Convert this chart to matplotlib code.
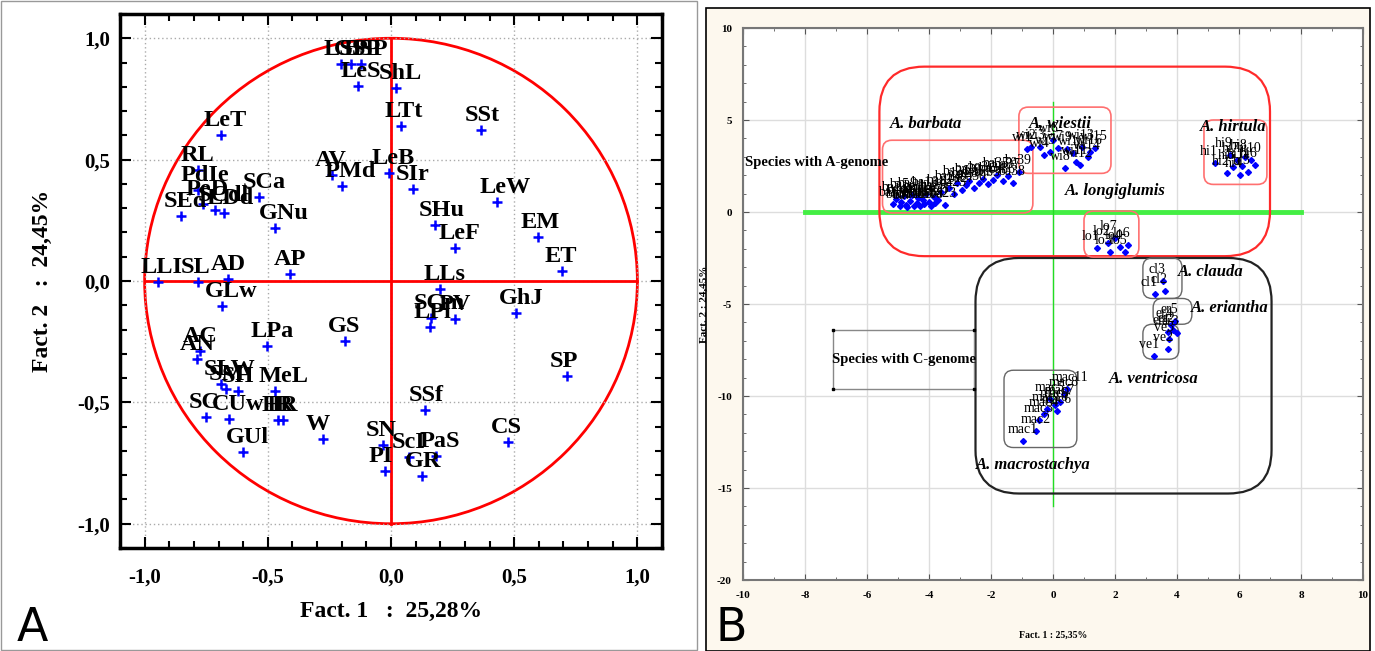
import numpy as np
import matplotlib.pyplot as plt
from matplotlib.patches import Circle, Rectangle, FancyBboxPatch
from matplotlib.ticker import MultipleLocator, FuncFormatter

plt.rcParams['font.family'] = ['Liberation Serif', 'DejaVu Serif']
plt.rcParams['axes.unicode_minus'] = False

# =========================
# Panel A data: variable loadings on factors 1 and 2
# =========================
var_names = ["LSP", "GSP", "BSP", "LeS", "ShL", "LTt", "SSt", "LeT", "RL", "PdIe",
             "PeD", "SEd", "SCdl", "LDd", "SCa", "GNu", "AV", "PMd", "LeB", "SIr",
             "LeW", "SHu", "EM", "LeF", "ET", "LLs", "AP", "LLI", "SL", "AD",
             "GLw", "SCm", "PV", "LPl", "GhJ", "AC", "AN", "LPa", "GS", "SP",
             "SLW", "SM", "SH", "MeL", "SC", "CUw", "HR", "IR", "GUl", "W",
             "SSf", "CS", "SN", "PI", "ScI", "PaS", "GR"]
var_x = [-0.204, -0.163, -0.122, -0.135, 0.020, 0.041, 0.367, -0.690, -0.784, -0.784,
         -0.763, -0.853, -0.714, -0.678, -0.535, -0.469, -0.241, -0.200, -0.008, 0.090,
         0.429, 0.180, 0.596, 0.261, 0.694, 0.200, -0.408, -0.947, -0.784, -0.661,
         -0.686, 0.163, 0.261, 0.159, 0.506, -0.776, -0.788, -0.502, -0.188, 0.714,
         -0.690, -0.669, -0.620, -0.469, -0.751, -0.657, -0.457, -0.437, -0.600, -0.278,
         0.139, 0.473, -0.033, -0.024, 0.073, 0.184, 0.127]
var_y = [0.893, 0.893, 0.893, 0.802, 0.794, 0.638, 0.621, 0.601, 0.457, 0.374,
         0.317, 0.267, 0.292, 0.280, 0.346, 0.218, 0.436, 0.391, 0.444, 0.379,
         0.325, 0.230, 0.181, 0.136, 0.041, -0.033, 0.029, -0.004, -0.004, 0.008,
         -0.103, -0.152, -0.156, -0.189, -0.132, -0.288, -0.321, -0.267, -0.247, -0.391,
         -0.424, -0.444, -0.453, -0.453, -0.560, -0.568, -0.572, -0.572, -0.704, -0.650,
         -0.531, -0.663, -0.675, -0.782, -0.724, -0.720, -0.802]

# =========================
# Panel B data: individuals on factors 1 and 2, by species
# =========================
barbata = [(-5.15, 0.45), (-5.05, 0.7), (-4.95, 0.3), (-4.9, 0.55), (-4.8, 0.85),
           (-4.75, 0.4), (-4.7, 0.25), (-4.6, 0.6), (-4.55, 0.95), (-4.5, 0.35),
           (-4.4, 0.5), (-4.35, 0.75), (-4.3, 0.3), (-4.2, 0.65), (-4.15, 0.45),
           (-4.1, 1.0), (-4.0, 0.55), (-3.95, 0.35), (-3.85, 0.8), (-3.8, 0.5),
           (-3.7, 0.65), (-3.6, 1.1), (-3.5, 0.4), (-3.35, 1.3), (-3.2, 1.0),
           (-3.1, 1.55), (-2.95, 1.2), (-2.8, 1.45), (-2.7, 1.7), (-2.55, 1.3),
           (-2.4, 1.6), (-2.25, 1.8), (-2.1, 1.5), (-1.95, 1.75), (-1.8, 2.0),
           (-1.6, 1.7), (-1.45, 1.95), (-1.3, 1.6), (-1.1, 2.2)]
wiestii = [(-0.85, 3.45), (-0.7, 3.55), (-0.42, 3.53), (-0.3, 3.1), (-0.1, 3.26),
           (0.0, 3.9), (0.16, 3.5), (0.39, 2.4), (0.45, 3.4), (0.65, 3.2),
           (0.75, 2.7), (0.87, 2.55), (0.95, 3.55), (1.13, 3.0), (1.35, 3.5), (1.2, 3.25)]
hirtula = [(5.23, 2.66), (5.6, 2.1), (5.8, 2.45), (6.03, 2.0), (6.3, 2.17),
           (6.5, 2.55), (5.93, 2.83), (6.2, 3.0), (5.7, 3.1), (6.4, 2.83), (6.1, 2.5)]
longiglumis = [(1.42, -1.96), (1.77, -1.7), (1.84, -2.17), (2.16, -1.9), (2.32, -2.17),
               (2.42, -1.8), (2.0, -1.41)]
clauda = [(3.3, -4.45), (3.62, -4.3), (3.55, -3.75)]
eriantha = [(3.7, -6.5), (3.87, -6.4), (4.0, -6.6), (3.8, -6.15), (3.95, -5.9)]
ventricosa = [(3.26, -7.8), (3.7, -7.45), (3.75, -6.9)]
macrostachya = [(-0.97, -12.45), (-0.55, -11.9), (-0.45, -11.3), (-0.3, -11.0),
                (-0.1, -10.15), (0.13, -10.8), (0.23, -10.3), (0.35, -9.9),
                (0.05, -10.5), (-0.2, -10.7), (0.45, -9.6)]

groups = [("ba", barbata), ("wi", wiestii), ("hi", hirtula), ("lo", longiglumis),
          ("cl", clauda), ("er", eriantha), ("ve", ventricosa), ("mac", macrostachya)]

# species name labels (text, x, y)
species_text = [("A. barbata", -4.1, 4.8), ("A. wiestii", 0.25, 4.8),
                ("A. hirtula", 5.8, 4.6), ("A. longiglumis", 2.0, 1.15),
                ("A. clauda", 5.1, -3.25), ("A. eriantha", 5.7, -5.2),
                ("A. ventricosa", 3.25, -9.1), ("A. macrostachya", -0.65, -13.75)]

# boxes: (x0, x1, y0, y1)
box_A_genome = (-5.6, 7.0, -2.4, 7.9)
box_C_genome = (-2.5, 7.05, -15.3, -2.5)
red_boxes = [(-5.5, -0.65, -0.05, 3.9), (-1.1, 1.87, 2.1, 5.7),
             (4.87, 6.9, 1.5, 5.0), (1.0, 2.77, -2.45, 0.05)]
gray_boxes = [(2.9, 4.16, -4.7, -2.5), (3.23, 4.48, -6.1, -4.7),
              (2.9, 4.06, -8.0, -6.1), (-1.58, 0.77, -12.8, -8.6)]

W, H = 1375, 651
fig = plt.figure(figsize=(W / 100, H / 100), dpi=100)

# panel frames
fig.patches.append(Rectangle((1 / W, 1 / H), 696 / W, 649 / H, transform=fig.transFigure,
                             fill=False, ec='#999999', lw=1, zorder=-2))
fig.patches.append(Rectangle((706 / W, 0), 664 / W, 643 / H, transform=fig.transFigure,
                             fc='#fdf8ee', ec='black', lw=1.2, zorder=-2))

# =========================
# Panel A
# =========================
ax = fig.add_axes([120 / W, 1 - 548 / H, 542 / W, 534 / H])
ax.set_xlim(-1.1, 1.1)
ax.set_ylim(-1.1, 1.1)
ax.grid(True, which='major', ls=(0, (1, 2)), color='#aaaaaa', lw=1)
ax.add_patch(Circle((0, 0), 1, fill=False, ec='red', lw=2))
ax.plot([-1, 1], [0, 0], color='red', lw=2)
ax.plot([0, 0], [-1, 1], color='red', lw=2)
ax.plot(var_x, var_y, '+', color='blue', ms=7, mew=1.8)
for name, x, y in zip(var_names, var_x, var_y):
    ax.annotate(name, (x, y), xytext=(-17, 9), textcoords='offset pixels',
                fontsize=17.5, fontweight='bold', ha='left', va='baseline')

fmt = FuncFormatter(lambda v, p: f"{v:.1f}".replace('.', ','))
for a in (ax.xaxis, ax.yaxis):
    a.set_major_locator(MultipleLocator(0.5))
    a.set_minor_locator(MultipleLocator(0.1))
    a.set_major_formatter(fmt)
ax.tick_params(which='both', direction='in', top=True, right=True, width=1.5)
ax.tick_params(which='major', length=8, labelsize=15)
ax.tick_params(which='minor', length=5)
ax.tick_params(axis='x', pad=14)
ax.tick_params(axis='y', pad=7)
for lab in ax.get_xticklabels() + ax.get_yticklabels():
    lab.set_fontweight('bold')
for s in ax.spines.values():
    s.set_linewidth(2.5)
ax.set_xlabel("Fact. 1   :  25,28%", fontsize=17, fontweight='bold', labelpad=10)
ax.set_ylabel("Fact. 2   :  24,45%", fontsize=17, fontweight='bold', labelpad=18)

fig.text(17 / W, 1 - 641 / H, "A", fontsize=33, family='DejaVu Sans', va='baseline')
fig.text(715 / W, 1 - 641 / H, "B", fontsize=33, family='DejaVu Sans', va='baseline')

# =========================
# Panel B
# =========================
bx = fig.add_axes([743 / W, 1 - 580 / H, 620 / W, 552 / H])
bx.set_facecolor('white')
bx.set_xlim(-10, 10)
bx.set_ylim(-20, 10)
bx.xaxis.set_major_locator(MultipleLocator(2))
bx.yaxis.set_major_locator(MultipleLocator(5))
bx.xaxis.set_minor_locator(MultipleLocator(1))
bx.yaxis.set_minor_locator(MultipleLocator(1))
bx.grid(True, which='major', color='#dddddd', lw=1)
bx.tick_params(which='both', direction='in', top=True, right=True, color='#555555')
bx.tick_params(which='major', length=4, labelsize=8, pad=8)
bx.tick_params(which='minor', length=2.5)
for lab in bx.get_xticklabels() + bx.get_yticklabels():
    lab.set_fontweight('bold')
for s in bx.spines.values():
    s.set_color('#777777')
    s.set_linewidth(1.5)
bx.set_xlabel("Fact. 1 : 25,35%", fontsize=7, fontweight='bold', labelpad=22)
bx.set_ylabel("Fact. 2 : 24,45%", fontsize=8, fontweight='bold', labelpad=6)

aspect = (620 / 20) / (552 / 30)


def rbox(x0, x1, y0, y1, color, lw, r):
    p = FancyBboxPatch((x0, y0), x1 - x0, y1 - y0,
                       boxstyle=f"round,pad=0,rounding_size={r}",
                       mutation_aspect=aspect, fill=False, ec=color, lw=lw, zorder=3)
    bx.add_patch(p)


rbox(*box_A_genome, '#ff2a2a', 1.6, 1.45)
rbox(*box_C_genome, '#222222', 1.6, 1.4)
for b in red_boxes:
    rbox(*b, '#ff7070', 1.2, 0.3)
for b in gray_boxes:
    rbox(*b, '#666666', 1.0, 0.3)

bx.plot([-8, 8], [0, 0], color='#44ee44', lw=3.5, zorder=2)
bx.plot([0, 0], [6, -16], color='#22dd22', lw=1, zorder=2)

for prefix, pts in groups:
    xs = [p[0] for p in pts]
    ys = [p[1] for p in pts]
    bx.plot(xs, ys, 'D', color='blue', ms=3, zorder=4)
    for i, (x, y) in enumerate(pts):
        bx.annotate(f"{prefix}{i + 1}", (x, y), xytext=(-15, 8), textcoords='offset pixels',
                    fontsize=10, ha='left', va='baseline', zorder=5)

for t, x, y in species_text:
    bx.text(x, y, t, fontsize=12, fontweight='bold', style='italic',
            ha='center', va='center', zorder=6)

bx.text(-9.95, 2.7, "Species with A-genome", fontsize=10.5, fontweight='bold',
        ha='left', va='center', zorder=6)
bx.text(-4.8, -8.0, "Species with C-genome", fontsize=10.5, fontweight='bold',
        ha='center', va='center', zorder=6)
bx.add_patch(Rectangle((-7.1, -9.6), 4.55, 3.2, fill=False, ec='#888888', lw=1, zorder=3))
bx.plot([-7.1, -2.55, -7.1, -2.55], [-6.4, -6.4, -9.6, -9.6], 's', color='black', ms=2, zorder=4)

fig.savefig("out.png", dpi=100)
